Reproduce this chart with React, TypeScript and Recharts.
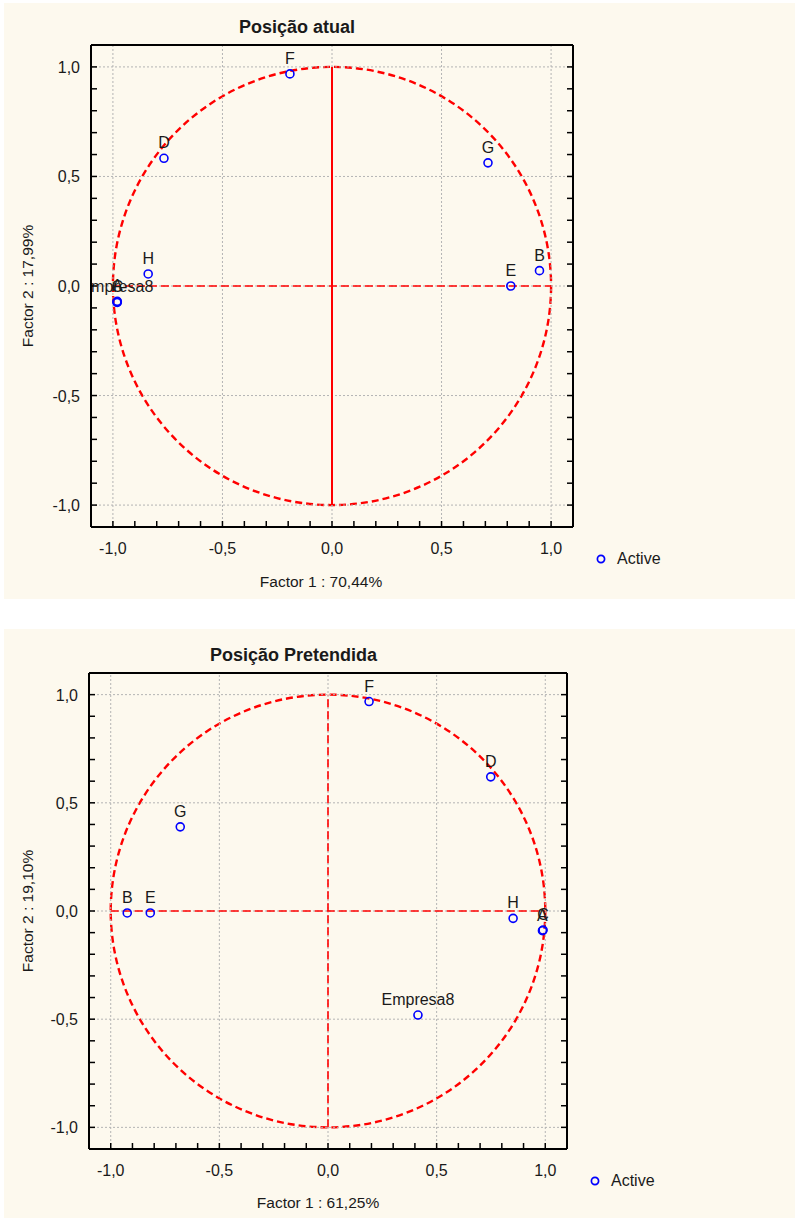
import React from 'react';
import { ScatterChart, Scatter, XAxis, YAxis, ReferenceLine, ReferenceArea, Legend } from 'recharts';

// ---------- data ----------
const POINT_NAMES = ['A', 'B', 'C', 'D', 'E', 'F', 'G', 'H', 'Empresa8'];

const ATUAL_F1 = [-0.98, 0.947, -0.98, -0.767, 0.816, -0.192, 0.712, -0.839, -0.982];
const ATUAL_F2 = [-0.07, 0.07, -0.075, 0.583, 0.0, 0.968, 0.562, 0.055, -0.074];

const PRET_F1 = [0.987, -0.924, 0.99, 0.749, -0.818, 0.189, -0.68, 0.852, 0.414];
const PRET_F2 = [-0.091, -0.009, -0.088, 0.62, -0.009, 0.968, 0.389, -0.034, -0.481];

const AXIS_TICKS = [-1.0, -0.9, -0.8, -0.7, -0.6, -0.5, -0.4, -0.3, -0.2, -0.1, 0.0, 0.1, 0.2, 0.3, 0.4, 0.5, 0.6, 0.7, 0.8, 0.9, 1.0];
const GRID_VALUES = [-1.0, -0.5, 0.0, 0.5, 1.0];
const DOMAIN: [number, number] = [-1.1, 1.1];

const SERIES_NAME = 'Active';

// ---------- style ----------
const FONT = '"Liberation Sans", Arial, sans-serif';
const CREAM = '#FDF9EE';
const RED = '#FF0000';
const BLUE = '#0000FF';
const TEXT = '#1a1a1a';

const fmt = (v: number) => v.toFixed(1).replace('.', ',');
const isMajor = (v: number) => Math.abs(v * 2 - Math.round(v * 2)) < 1e-6;

const TICK_LEN = 6;

const BottomTick = (props: any) => {
  const { x, y, payload } = props;
  const v = payload.value;
  return (
    <g>
      <line x1={x} y1={y} x2={x} y2={y - TICK_LEN} stroke="#000" strokeWidth={1.5} />
      {isMajor(v) && (
        <text x={x} y={y + 27} textAnchor="middle" fontSize={16} fill={TEXT} fontFamily={FONT}>
          {fmt(v)}
        </text>
      )}
    </g>
  );
};
const TopTick = (props: any) => {
  const { x, y } = props;
  return <line x1={x} y1={y} x2={x} y2={y + TICK_LEN} stroke="#000" strokeWidth={1.5} />;
};
const LeftTick = (props: any) => {
  const { x, y, payload } = props;
  const v = payload.value;
  return (
    <g>
      <line x1={x} y1={y} x2={x + TICK_LEN} y2={y} stroke="#000" strokeWidth={1.5} />
      {isMajor(v) && (
        <text x={x - 11} y={y + 6} textAnchor="end" fontSize={16} fill={TEXT} fontFamily={FONT}>
          {fmt(v)}
        </text>
      )}
    </g>
  );
};
const RightTick = (props: any) => {
  const { x, y } = props;
  return <line x1={x} y1={y} x2={x - TICK_LEN} y2={y} stroke="#000" strokeWidth={1.5} />;
};

type Layout = {
  top: number;
  width: number;
  height: number;
  yl: number;
  xt: number;
  pw: number;
  ph: number;
  title: string;
  titleX: number;
  titleY: number;
  xLabel: string;
  xLabelDx: number;
  xLabelDy: number;
  yLabel: string;
  yLabelX: number;
  legendX: number;
  legendY: number;
  solidVertical: boolean;
  id: string;
};

const FactorChart = ({ L, f1, f2 }: { L: Layout; f1: number[]; f2: number[] }) => {
  const data = POINT_NAMES.map((name, i) => ({ name, x: f1[i], y: f2[i] }));
  const yr = L.width - L.yl - L.pw;
  const xb = L.height - L.xt - L.ph;
  const clipId = `clip-${L.id}`;

  const PointShape = (props: any) => {
    const { cx, cy, payload } = props;
    return (
      <g>
        <defs>
          <clipPath id={clipId}>
            <rect x={L.yl} y={L.xt} width={L.pw} height={L.ph} />
          </clipPath>
        </defs>
        <circle cx={cx} cy={cy} r={4} fill="none" stroke={BLUE} strokeWidth={1.6} />
        <text
          x={cx}
          y={cy - 10}
          textAnchor="middle"
          fontSize={16}
          fill={TEXT}
          fontFamily={FONT}
          clipPath={`url(#${clipId})`}
        >
          {payload.name}
        </text>
      </g>
    );
  };

  const CircleShape = (props: any) => {
    const { x, y, width, height } = props;
    return (
      <ellipse
        cx={x + width / 2}
        cy={y + height / 2}
        rx={width / 2}
        ry={height / 2}
        fill="none"
        stroke={RED}
        strokeWidth={2.4}
        strokeDasharray="7 4"
      />
    );
  };

  const TitleLabel = () => (
    <text x={L.titleX} y={L.titleY} textAnchor="middle" fontSize={18} fontWeight="bold" fill={TEXT} fontFamily={FONT}>
      {L.title}
    </text>
  );
  const XTitle = () => (
    <text
      x={L.yl + L.pw / 2 + L.xLabelDx}
      y={L.xt + L.ph + L.xLabelDy}
      textAnchor="middle"
      fontSize={15.5}
      fill={TEXT}
      fontFamily={FONT}
    >
      {L.xLabel}
    </text>
  );
  const YTitle = () => {
    const cx = L.yLabelX;
    const cy = L.xt + L.ph / 2;
    return (
      <text
        x={cx}
        y={cy}
        transform={`rotate(-90 ${cx} ${cy})`}
        textAnchor="middle"
        fontSize={15.5}
        fill={TEXT}
        fontFamily={FONT}
      >
        {L.yLabel}
      </text>
    );
  };

  const LegendContent = () => (
    <div style={{ display: 'flex', alignItems: 'center', height: 20, fontFamily: FONT, fontSize: 16, color: TEXT }}>
      <svg width={10} height={10} style={{ display: 'block' }}>
        <circle cx={5} cy={5} r={3.6} fill="none" stroke={BLUE} strokeWidth={1.7} />
      </svg>
      <span style={{ marginLeft: 11, lineHeight: '20px' }}>{SERIES_NAME}</span>
    </div>
  );

  const axisLine = { stroke: '#000', strokeWidth: 2 };

  return (
    <div style={{ position: 'absolute', left: 4, top: L.top, width: L.width, height: L.height, background: CREAM }}>
      <ScatterChart width={L.width} height={L.height} margin={{ top: 0, right: 0, bottom: 0, left: 0 }}>
        <XAxis
          type="number"
          dataKey="x"
          domain={DOMAIN}
          ticks={AXIS_TICKS}
          interval={0}
          allowDataOverflow
          tick={BottomTick}
          tickLine={false}
          tickSize={0}
          tickMargin={0}
          axisLine={axisLine}
          height={xb}
          label={<XTitle />}
        />
        <XAxis
          xAxisId="top"
          orientation="top"
          type="number"
          domain={DOMAIN}
          ticks={AXIS_TICKS}
          interval={0}
          allowDataOverflow
          tick={TopTick}
          tickLine={false}
          tickSize={0}
          tickMargin={0}
          axisLine={axisLine}
          height={L.xt}
          label={<TitleLabel />}
        />
        <YAxis
          type="number"
          dataKey="y"
          domain={DOMAIN}
          ticks={AXIS_TICKS}
          interval={0}
          allowDataOverflow
          tick={LeftTick}
          tickLine={false}
          tickSize={0}
          tickMargin={0}
          axisLine={axisLine}
          width={L.yl}
          label={<YTitle />}
        />
        <YAxis
          yAxisId="right"
          orientation="right"
          type="number"
          domain={DOMAIN}
          ticks={AXIS_TICKS}
          interval={0}
          allowDataOverflow
          tick={RightTick}
          tickLine={false}
          tickSize={0}
          tickMargin={0}
          axisLine={axisLine}
          width={yr}
        />
        {GRID_VALUES.map((v) => (
          <ReferenceLine key={`gx${v}`} x={v} stroke="#b4b4b4" strokeWidth={1} strokeDasharray="2 2" />
        ))}
        {GRID_VALUES.map((v) => (
          <ReferenceLine key={`gy${v}`} y={v} stroke="#b4b4b4" strokeWidth={1} strokeDasharray="2 2" />
        ))}
        <ReferenceArea x1={-1} x2={1} y1={-1} y2={1} shape={CircleShape} />
        <ReferenceLine
          segment={[{ x: -1, y: 0 }, { x: 1, y: 0 }]}
          stroke={RED}
          strokeWidth={1.6}
          strokeDasharray="8 4"
        />
        <ReferenceLine
          segment={[{ x: 0, y: -1 }, { x: 0, y: 1 }]}
          stroke={RED}
          strokeWidth={L.solidVertical ? 2 : 1.6}
          strokeDasharray={L.solidVertical ? undefined : '8 4'}
        />
        <Scatter name={SERIES_NAME} data={data} shape={PointShape} isAnimationActive={false} />
        <Legend
          layout="horizontal"
          verticalAlign="middle"
          align="center"
          content={<LegendContent />}
          wrapperStyle={{ left: L.legendX - 5, top: L.legendY - 10, width: 100, height: 20 }}
        />
      </ScatterChart>
    </div>
  );
};

const LAYOUT_ATUAL: Layout = {
  id: 'atual',
  top: 3,
  width: 791,
  height: 596,
  yl: 87,
  xt: 42,
  pw: 482,
  ph: 482,
  title: 'Posição atual',
  titleX: 293,
  titleY: 29.5,
  xLabel: 'Factor 1 : 70,44%',
  xLabelDx: -11,
  xLabelDy: 60,
  yLabel: 'Factor 2 : 17,99%',
  yLabelX: 29,
  legendX: 597,
  legendY: 556,
  solidVertical: true,
};

const LAYOUT_PRET: Layout = {
  id: 'pret',
  top: 629,
  width: 791,
  height: 589,
  yl: 85,
  xt: 44,
  pw: 478,
  ph: 476,
  title: 'Posição Pretendida',
  titleX: 289.5,
  titleY: 32,
  xLabel: 'Factor 1 : 61,25%',
  xLabelDx: -10,
  xLabelDy: 58.5,
  yLabel: 'Factor 2 : 19,10%',
  yLabelX: 29,
  legendX: 591,
  legendY: 552,
  solidVertical: false,
};

export default function App() {
  return (
    <div style={{ position: 'absolute', left: 0, top: 0, width: 795, height: 1218, background: '#fff', overflow: 'hidden' }}>
      <FactorChart L={LAYOUT_ATUAL} f1={ATUAL_F1} f2={ATUAL_F2} />
      <FactorChart L={LAYOUT_PRET} f1={PRET_F1} f2={PRET_F2} />
    </div>
  );
}
